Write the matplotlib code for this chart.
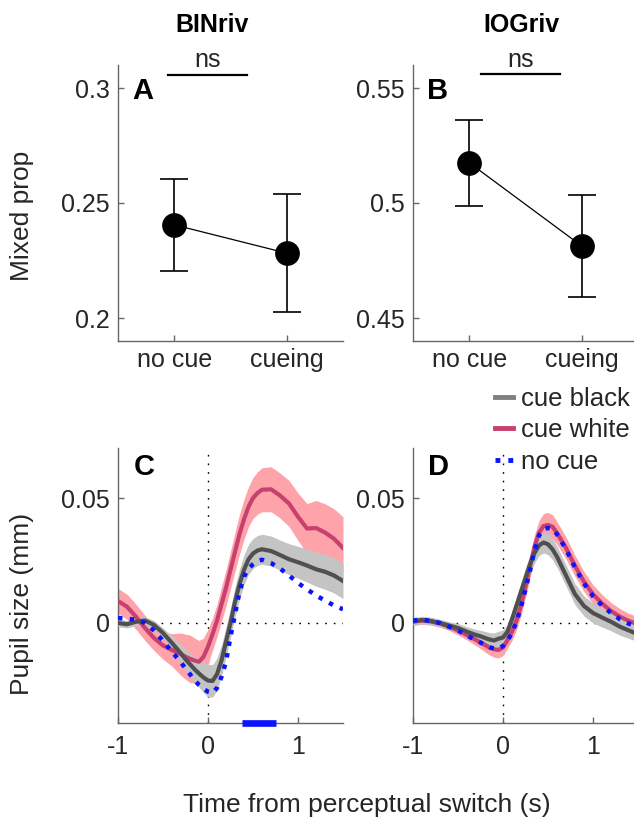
"""Mixed-percept proportions and switch-locked pupil responses (BINriv / IOGriv)."""

import matplotlib

matplotlib.use("Agg")
import matplotlib.pyplot as plt
import numpy as np
from matplotlib.lines import Line2D

plt.rcParams["font.family"] = ["Liberation Sans", "DejaVu Sans"]

# --- panel A / B: mixed percept proportion -------------------------------
conditions = ["no cue", "cueing"]
bin_mixed_mean = [0.2405, 0.2282]
bin_mixed_err = [0.0201, 0.0256]
iog_mixed_mean = [0.5175, 0.4813]
iog_mixed_err = [0.0187, 0.0221]

# --- panel C / D: pupil size locked to perceptual switch -----------------
time_s = [-1.0, -0.9, -0.8, -0.7, -0.6, -0.5, -0.4, -0.3, -0.25, -0.2,
          -0.15, -0.1, -0.05, 0.0, 0.05, 0.1, 0.15, 0.2, 0.25, 0.3,
          0.35, 0.4, 0.45, 0.5, 0.55, 0.6, 0.7, 0.8, 0.9, 1.0,
          1.1, 1.2, 1.3, 1.4, 1.5]

bin_black_mean = [0.0, -0.0005, 0.0005, 0.001, -0.0008, -0.004, -0.008, -0.0122, -0.0145, -0.0165,
                  -0.0185, -0.0202, -0.0218, -0.023, -0.0232, -0.0205, -0.015, -0.0075, 0.0, 0.0085,
                  0.0155, 0.0213, 0.0255, 0.0278, 0.029, 0.0295, 0.0288, 0.0272, 0.0255, 0.0243,
                  0.023, 0.0215, 0.0205, 0.019, 0.0168]
bin_black_sem = [0.0015, 0.0015, 0.0015, 0.0015, 0.0018, 0.002, 0.0028, 0.0035, 0.004, 0.0045,
                 0.005, 0.0055, 0.006, 0.0065, 0.0065, 0.0065, 0.0062, 0.006, 0.006, 0.006,
                 0.006, 0.006, 0.006, 0.006, 0.006, 0.006, 0.006, 0.006, 0.0062, 0.0064,
                 0.0066, 0.0068, 0.007, 0.007, 0.007]
bin_white_mean = [0.0088, 0.0065, 0.0025, -0.002, -0.006, -0.009, -0.0108, -0.0125, -0.0135, -0.0143,
                  -0.015, -0.0155, -0.0135, -0.0095, -0.0045, 0.001, 0.0075, 0.014, 0.0213, 0.0285,
                  0.0355, 0.0415, 0.0465, 0.05, 0.052, 0.0533, 0.0535, 0.051, 0.0478, 0.0425,
                  0.0378, 0.038, 0.0362, 0.0337, 0.03]
bin_white_sem = [0.005, 0.005, 0.005, 0.005, 0.005, 0.0055, 0.0065, 0.0085, 0.009, 0.0095,
                 0.009, 0.0085, 0.0075, 0.007, 0.0065, 0.0065, 0.007, 0.0072, 0.0075, 0.0078,
                 0.008, 0.008, 0.008, 0.0082, 0.0085, 0.0088, 0.009, 0.009, 0.0092, 0.0095,
                 0.01, 0.011, 0.0115, 0.012, 0.0125]
bin_nocue_mean = [0.002, 0.0017, 0.0013, 0.0, -0.003, -0.0072, -0.0115, -0.0158, -0.0182, -0.0205,
                  -0.0228, -0.0248, -0.0263, -0.0275, -0.028, -0.026, -0.0215, -0.0155, -0.0055, 0.0035,
                  0.0125, 0.0185, 0.0218, 0.0235, 0.0248, 0.0253, 0.024, 0.0218, 0.019, 0.016,
                  0.0135, 0.011, 0.009, 0.007, 0.0055]

iog_black_mean = [0.0007, 0.0012, 0.0008, 0.0, -0.001, -0.002, -0.0035, -0.0048, -0.0053, -0.006,
                  -0.0066, -0.007, -0.0063, -0.0058, -0.0035, 0.0015, 0.007, 0.0125, 0.018, 0.0235,
                  0.028, 0.031, 0.0322, 0.0315, 0.0295, 0.0265, 0.019, 0.0115, 0.0068, 0.004,
                  0.0022, 0.0005, -0.0015, -0.003, -0.0045]
iog_black_sem = [0.0015, 0.0015, 0.0015, 0.0015, 0.0015, 0.0018, 0.002, 0.0022, 0.0024, 0.0026,
                 0.0028, 0.003, 0.003, 0.003, 0.003, 0.0032, 0.0035, 0.0038, 0.004, 0.004,
                 0.004, 0.004, 0.0042, 0.0042, 0.0042, 0.0042, 0.0042, 0.0042, 0.004, 0.004,
                 0.0038, 0.0036, 0.0034, 0.0032, 0.003]
iog_white_mean = [0.0005, 0.001, 0.0006, -0.0002, -0.0015, -0.003, -0.0048, -0.0068, -0.0078, -0.0088,
                  -0.0098, -0.0105, -0.0108, -0.0098, -0.0068, -0.0035, 0.001, 0.007, 0.0145, 0.0225,
                  0.0305, 0.036, 0.0388, 0.0392, 0.0385, 0.036, 0.03, 0.0228, 0.0165, 0.0115,
                  0.0078, 0.0048, 0.0025, 0.0008, -0.0005]
iog_white_sem = [0.0015, 0.0015, 0.0015, 0.0015, 0.0015, 0.0018, 0.002, 0.0023, 0.0025, 0.0028,
                 0.003, 0.0032, 0.0032, 0.0032, 0.0032, 0.0035, 0.0038, 0.004, 0.0042, 0.0045,
                 0.0048, 0.005, 0.005, 0.005, 0.0048, 0.0046, 0.0044, 0.0042, 0.004, 0.0038,
                 0.0036, 0.0034, 0.0032, 0.003, 0.003]
iog_nocue_mean = [0.001, 0.0013, 0.0008, 0.0, -0.0015, -0.003, -0.005, -0.007, -0.0078, -0.0088,
                  -0.0097, -0.0102, -0.0102, -0.0092, -0.007, -0.004, 0.0005, 0.0065, 0.0135, 0.021,
                  0.029, 0.035, 0.0375, 0.038, 0.0378, 0.0355, 0.0295, 0.0222, 0.0158, 0.0107,
                  0.007, 0.004, 0.0015, -0.0003, -0.0015]

# significant cue black vs cue white window (s), BINriv only
sig_window = [0.38, 0.76]

SPINE = "#666666"
TEXT = "#262626"
BLACK_LINE, BLACK_BAND = "#505050", "#c4c4c4"
WHITE_LINE, WHITE_BAND = "#c8406e", "#ffa3ab"
NOCUE = "#0a14ff"

fig = plt.figure(figsize=(6.34, 8.25), dpi=100)
W, H = 634, 825


def px_axes(left, top, right, bottom):
    """Add axes given pixel edges measured from the top-left corner."""
    return fig.add_axes([left / W, 1 - bottom / H, (right - left) / W, (bottom - top) / H])


def style_axes(ax):
    """MATLAB-like box-less axes."""
    for side in ("top", "right"):
        ax.spines[side].set_visible(False)
    for side in ("left", "bottom"):
        ax.spines[side].set_color(SPINE)
        ax.spines[side].set_linewidth(1.0)
    ax.tick_params(direction="in", length=4, width=1.0, color=SPINE,
                   labelsize=18, labelcolor=TEXT, pad=6)


def mixed_panel(ax, means, errs, ylim, yticks, yticklabels, letter, ns_span, ns_y, ns_x):
    x = np.arange(1, len(means) + 1)
    ax.plot(x, means, color="k", lw=0.9, zorder=2)
    ax.errorbar(x, means, yerr=errs, fmt="o", color="k", ms=16.8,
                elinewidth=1.2, capsize=10, capthick=1.2, zorder=3)
    ax.set_xlim(0.5, 2.5)
    ax.set_ylim(*ylim)
    ax.set_yticks(yticks)
    ax.set_yticklabels(yticklabels)
    ax.set_xticks(x)
    ax.set_xticklabels(conditions, fontsize=17)
    style_axes(ax)
    ax.tick_params(axis="x", pad=5)
    ax.plot(ns_span, [ns_y, ns_y], color="k", lw=1.6, clip_on=False)
    ax.text(ns_x, 1 + 5 / 276, "ns", transform=ax.transAxes, fontsize=18,
            ha="center", va="center", color=TEXT)
    ax.text(0.11, 0.905, letter, transform=ax.transAxes, fontsize=21,
            fontweight="bold", ha="center", va="center")


def pupil_panel(ax, black_m, black_s, white_m, white_s, nocue_m, letter):
    t = np.array(time_s)
    bm, bs = np.array(black_m), np.array(black_s)
    wm, ws = np.array(white_m), np.array(white_s)
    ax.axhline(0, color="k", lw=1.0, ls=(0, (1.2, 5)), zorder=1)
    ax.axvline(0, color="k", lw=1.0, ls=(0, (1.2, 5)), zorder=1)
    ax.fill_between(t, wm - ws, wm + ws, color=WHITE_BAND, lw=0, zorder=2)
    ax.fill_between(t, bm - bs, bm + bs, color=BLACK_BAND, lw=0, zorder=3)
    ax.plot(t, wm, color=WHITE_LINE, lw=3, zorder=4)
    ax.plot(t, bm, color=BLACK_LINE, lw=3, zorder=5)
    ax.plot(t, nocue_m, color=NOCUE, lw=3.2, ls=":", zorder=6)
    ax.set_xlim(-1, 1.5)
    ax.set_ylim(-0.04, 0.07)
    ax.set_xticks([-1, 0, 1])
    ax.set_xticklabels(["-1", "0", "1"])
    ax.set_yticks([0, 0.05])
    ax.set_yticklabels(["0", "0.05"])
    style_axes(ax)
    ax.tick_params(axis="x", pad=9)
    ax.text(0.115, 0.93, letter, transform=ax.transAxes, fontsize=21,
            fontweight="bold", ha="center", va="center")


ax_a = px_axes(118, 65, 343, 341)
ax_b = px_axes(413, 65, 638, 341)
ax_c = px_axes(118, 448, 343, 723)
ax_d = px_axes(413, 448, 638, 723)

mixed_panel(ax_a, bin_mixed_mean, bin_mixed_err, (0.19, 0.31), [0.2, 0.25, 0.3],
            ["0.2", "0.25", "0.3"], "A", [0.94, 1.65], 0.3057, (208 - 118) / 225)
mixed_panel(ax_b, iog_mixed_mean, iog_mixed_err, (0.44, 0.56), [0.45, 0.5, 0.55],
            ["0.45", "0.5", "0.55"], "B", [1.10, 1.81], 0.5563, (521 - 413) / 225)

pupil_panel(ax_c, bin_black_mean, bin_black_sem, bin_white_mean, bin_white_sem,
            bin_nocue_mean, "C")
pupil_panel(ax_d, iog_black_mean, iog_black_sem, iog_white_mean, iog_white_sem,
            iog_nocue_mean, "D")
ax_c.plot(sig_window, [-0.04, -0.04], color=NOCUE, lw=4.8, solid_capstyle="butt",
          clip_on=False, zorder=7)

fig.text(212 / W, 1 - 25 / H, "BINriv", fontsize=18, fontweight="bold",
         ha="center", va="center")
fig.text(521 / W, 1 - 25 / H, "IOGriv", fontsize=18, fontweight="bold",
         ha="center", va="center")
fig.text(22 / W, 1 - 216 / H, "Mixed prop", fontsize=19, rotation=90,
         ha="center", va="center", color=TEXT)
fig.text(22 / W, 1 - 604 / H, "Pupil size (mm)", fontsize=19, rotation=90,
         ha="center", va="center", color=TEXT)
fig.text(367 / W, 1 - 805 / H, "Time from perceptual switch (s)", fontsize=19,
         ha="center", va="center", color=TEXT)

handles = [
    Line2D([], [], color="#808080", lw=3.5),
    Line2D([], [], color=WHITE_LINE, lw=3.5),
    Line2D([], [], color=NOCUE, lw=3.5, ls=":"),
]
fig.legend(handles, ["cue black", "cue white", "no cue"], loc="upper left",
           bbox_to_anchor=(495 / W, 1 - 387 / H), frameon=False, fontsize=18.5,
           handlelength=0.7, handletextpad=0.3, labelspacing=0.29,
           borderpad=0, borderaxespad=0, labelcolor=TEXT)

fig.savefig("out.png", dpi=100)
